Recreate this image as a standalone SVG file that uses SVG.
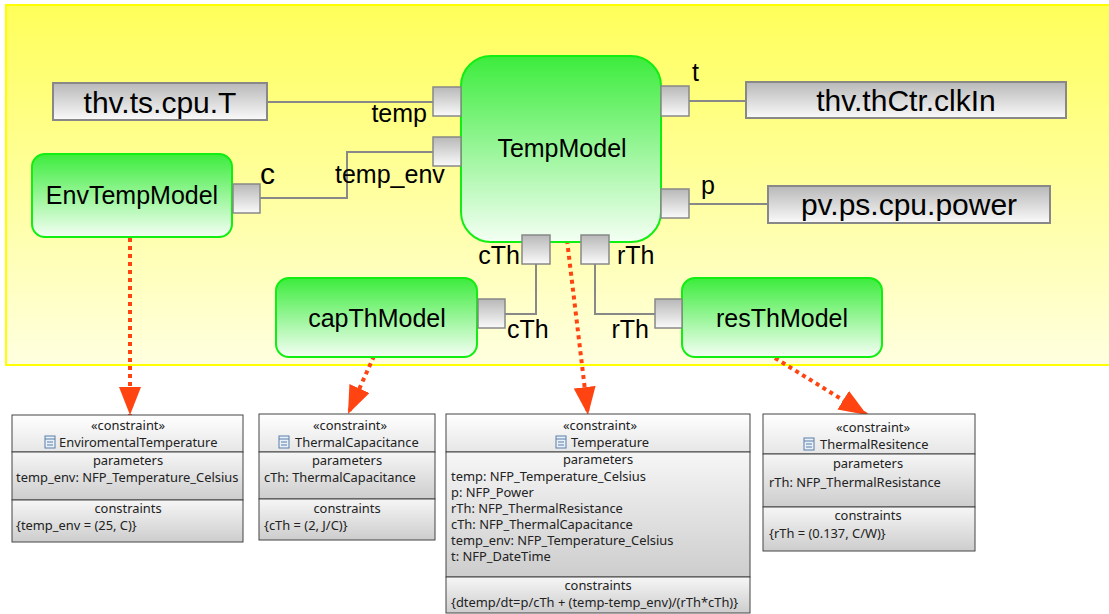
<svg xmlns="http://www.w3.org/2000/svg" width="1109" height="614" viewBox="0 0 1109 614">
<defs>
<linearGradient id="gYellow" x1="0" y1="0" x2="0" y2="1"><stop offset="0" stop-color="#ffff5a"/><stop offset="1" stop-color="#ffffe0"/></linearGradient>
<linearGradient id="gGreen" x1="0" y1="0" x2="0" y2="1"><stop offset="0" stop-color="#3cec3c"/><stop offset="1" stop-color="#f4fff4"/></linearGradient>
<linearGradient id="gGray" x1="0" y1="0" x2="0" y2="1"><stop offset="0" stop-color="#b8b8b8"/><stop offset="1" stop-color="#fafafa"/></linearGradient>
<linearGradient id="gBox" x1="0" y1="0" x2="0" y2="1"><stop offset="0" stop-color="#f6f6f6"/><stop offset="1" stop-color="#cdcdcd"/></linearGradient>
<linearGradient id="gHead" x1="0" y1="0" x2="0" y2="1"><stop offset="0" stop-color="#ffffff"/><stop offset="1" stop-color="#e6e6e6"/></linearGradient>
<marker id="arr" markerUnits="userSpaceOnUse" markerWidth="30" markerHeight="24" refX="28" refY="11" orient="auto" viewBox="0 0 30 24">
<path d="M0,0 L28,11 L0,22 z" fill="#ff4411"/>
</marker>
<g id="icon">
<rect x="0" y="0" width="10" height="12" fill="#e8f0f8" stroke="#5b7fa8" stroke-width="1"/>
<line x1="0" y1="3" x2="10" y2="3" stroke="#5b7fa8"/>
<line x1="2" y1="6" x2="8" y2="6" stroke="#5b7fa8"/>
<line x1="2" y1="9" x2="8" y2="9" stroke="#5b7fa8"/>
</g>
</defs>
<style>
.big{font-family:"Liberation Sans",Arial,sans-serif;font-size:30px;fill:#000}
.lbl{font-family:"Liberation Sans",Arial,sans-serif;font-size:25px;fill:#000}
.node{fill:url(#gGreen);stroke:#11ee11;stroke-width:2}
.ext{fill:url(#gGray);stroke:#888;stroke-width:2}
.port{fill:url(#gGray);stroke:#888;stroke-width:1.5}
.conn{fill:none;stroke:#888;stroke-width:2}
.dep{fill:none;stroke:#ff4411;stroke-width:4;stroke-dasharray:4 4}
.sec{fill:url(#gBox);stroke:#444;stroke-width:1}
.hd{fill:url(#gHead);stroke:#444;stroke-width:1}
.t{font-family:"Noto Sans","DejaVu Sans",sans-serif;font-size:12.9px;fill:#222}
.c{text-anchor:middle}
</style>
<rect x="6" y="5" width="1110" height="360" fill="url(#gYellow)" stroke="#ffff00" stroke-width="2"/>

<g id="connectors">
<path class="conn" d="M267,102 H433"/>
<path class="conn" d="M260,198 H347 V152 H433"/>
<path class="conn" d="M689,101 H746"/>
<path class="conn" d="M689,204 H768"/>
<path class="conn" d="M505,314 H536 V264"/>
<path class="conn" d="M595,264 V314 H655"/>
<path class="dep" d="M130,238 V415" marker-end="url(#arr)"/>
<path class="dep" d="M374,356 L348,414" marker-end="url(#arr)"/>
<path class="dep" d="M567,240 L588,415" marker-end="url(#arr)"/>
<path class="dep" d="M775,358 L867,415" marker-end="url(#arr)"/>
</g>

<g id="thv_ts_cpu_T">
<rect class="ext" x="53" y="83" width="214" height="37"/>
<text class="big c" x="160" y="113">thv.ts.cpu.T</text>
</g>
<g id="thv_thCtr_clkIn">
<rect class="ext" x="746" y="82" width="320" height="36"/>
<text class="big c" x="906" y="111">thv.thCtr.clkIn</text>
</g>
<g id="pv_ps_cpu_power">
<rect class="ext" x="768" y="186" width="282" height="37"/>
<text class="big c" x="909" y="215">pv.ps.cpu.power</text>
</g>

<g id="EnvTempModel">
<rect class="node" x="32" y="154" width="200" height="83" rx="13"/>
<text class="lbl c" x="132" y="204">EnvTempModel</text>
<rect class="port" x="233" y="184" width="27" height="29"/>
<text class="big" x="260" y="184">c</text>
</g>

<g id="TempModel">
<rect class="node" x="461" y="56" width="200" height="186" rx="30"/>
<text class="lbl c" x="562" y="157">TempModel</text>
<rect class="port" x="433" y="87" width="28" height="29"/>
<text class="lbl" x="427" y="122" text-anchor="end">temp</text>
<rect class="port" x="433" y="137" width="28" height="29"/>
<text class="lbl" x="335" y="183">temp_env</text>
<rect class="port" x="661" y="86" width="28" height="30"/>
<text class="lbl" x="692" y="81">t</text>
<rect class="port" x="661" y="189" width="28" height="29"/>
<text class="lbl" x="701" y="194">p</text>
<rect class="port" x="522" y="235" width="28" height="29"/>
<text class="lbl" x="520" y="264" text-anchor="end">cTh</text>
<rect class="port" x="581" y="235" width="28" height="29"/>
<text class="lbl" x="617" y="264">rTh</text>
</g>

<g id="capThModel">
<rect class="node" x="276" y="278" width="201" height="79" rx="13"/>
<text class="lbl c" x="377" y="327">capThModel</text>
<rect class="port" x="478" y="299" width="27" height="29"/>
<text class="lbl" x="507" y="338">cTh</text>
</g>

<g id="resThModel">
<rect class="node" x="682" y="278" width="200" height="79" rx="13"/>
<text class="lbl c" x="782" y="327">resThModel</text>
<rect class="port" x="655" y="299" width="27" height="29"/>
<text class="lbl" x="649" y="338" text-anchor="end">rTh</text>
</g>

<g id="EnviromentalTemperature">
<rect class="hd" x="12" y="415" width="231" height="37"/>
<rect class="sec" x="12" y="452" width="231" height="48"/>
<rect class="sec" x="12" y="500" width="231" height="42"/>
<text class="t c" x="128" y="430">«constraint»</text>
<use href="#icon" x="45" y="436"/>
<text class="t" x="59" y="447">EnviromentalTemperature</text>
<text class="t c" x="128" y="465">parameters</text>
<text class="t" x="16" y="482">temp_env: NFP_Temperature_Celsius</text>
<text class="t c" x="128" y="513">constraints</text>
<text class="t" x="16" y="530">{temp_env = (25, C)}</text>
</g>

<g id="ThermalCapacitance">
<rect class="hd" x="259" y="414" width="176" height="38"/>
<rect class="sec" x="259" y="452" width="176" height="47"/>
<rect class="sec" x="259" y="499" width="176" height="41"/>
<text class="t c" x="350" y="430">«constraint»</text>
<use href="#icon" x="279" y="436"/>
<text class="t" x="295" y="447">ThermalCapacitance</text>
<text class="t c" x="347" y="465">parameters</text>
<text class="t" x="264" y="482">cTh: ThermalCapacitance</text>
<text class="t c" x="347" y="513">constraints</text>
<text class="t" x="264" y="530">{cTh = (2, J/C)}</text>
</g>

<g id="Temperature">
<rect class="hd" x="446" y="414" width="304" height="38"/>
<rect class="sec" x="446" y="452" width="304" height="125"/>
<rect class="sec" x="446" y="577" width="304" height="36"/>
<text class="t c" x="600" y="430">«constraint»</text>
<use href="#icon" x="556" y="436"/>
<text class="t" x="571" y="447">Temperature</text>
<text class="t c" x="598" y="464">parameters</text>
<text class="t" x="451" y="481">temp: NFP_Temperature_Celsius</text>
<text class="t" x="451" y="497">p: NFP_Power</text>
<text class="t" x="451" y="513">rTh: NFP_ThermalResistance</text>
<text class="t" x="451" y="529">cTh: NFP_ThermalCapacitance</text>
<text class="t" x="451" y="545">temp_env: NFP_Temperature_Celsius</text>
<text class="t" x="451" y="561">t: NFP_DateTime</text>
<text class="t c" x="598" y="590">constraints</text>
<text class="t" x="451" y="607">{dtemp/dt=p/cTh + (temp-temp_env)/(rTh*cTh)}</text>
</g>

<g id="ThermalResitence">
<rect class="hd" x="763" y="414" width="212" height="40"/>
<rect class="sec" x="763" y="454" width="212" height="53"/>
<rect class="sec" x="763" y="507" width="212" height="44"/>
<text class="t c" x="873" y="432">«constraint»</text>
<use href="#icon" x="804" y="438"/>
<text class="t" x="820" y="449">ThermalResitence</text>
<text class="t c" x="868" y="468">parameters</text>
<text class="t" x="769" y="487">rTh: NFP_ThermalResistance</text>
<text class="t c" x="868" y="520">constraints</text>
<text class="t" x="769" y="538">{rTh = (0.137, C/W)}</text>
</g>
</svg>
